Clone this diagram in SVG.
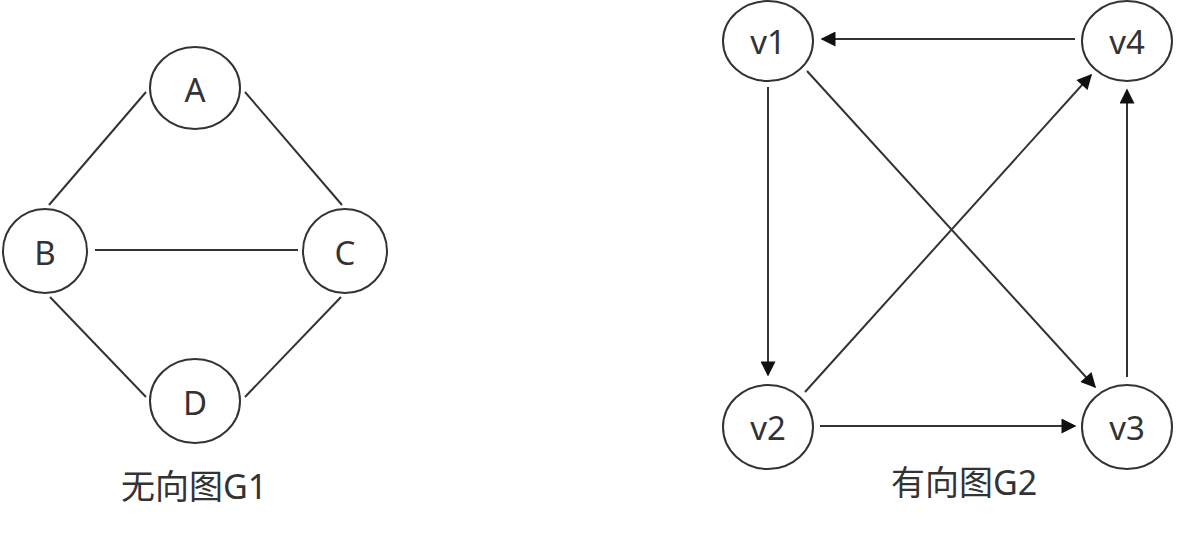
<svg xmlns="http://www.w3.org/2000/svg" width="1201" height="534" viewBox="0 0 1201 534">
<style>
.node ellipse{fill:#fff;stroke:#333;stroke-width:2}
.node text,.lbl{font-family:"Noto Sans","Noto Sans CJK SC",sans-serif;fill:#333;text-anchor:middle;dominant-baseline:central}
.node text{font-size:33px}
.lbl{font-size:34px}
.edges line{stroke:#333;stroke-width:2;fill:none}
.arr line{marker-end:url(#ah)}
</style>
<defs>
<marker id="ah" viewBox="0 0 10 10" refX="9" refY="5" markerWidth="8.5" markerHeight="7.5" markerUnits="strokeWidth" orient="auto">
<path d="M0,0 L10,5 L0,10 Z" fill="#111"/>
</marker>
</defs>
<rect width="1201" height="534" fill="#fff"/>
<g id="edges-g1" class="edges">
<line x1="146" y1="92" x2="49" y2="205"/>
<line x1="245" y1="92" x2="342" y2="205"/>
<line x1="95" y1="250" x2="298" y2="250"/>
<line x1="50" y1="297" x2="146" y2="397"/>
<line x1="341" y1="297" x2="245" y2="397"/>
</g>
<g id="edges-g2" class="edges arr">
<line x1="1075" y1="39" x2="822" y2="39"/>
<line x1="768" y1="87" x2="768" y2="375"/>
<line x1="807" y1="71" x2="1095" y2="387"/>
<line x1="805" y1="392" x2="1091" y2="75"/>
<line x1="820" y1="426" x2="1075" y2="426"/>
<line x1="1127" y1="377" x2="1127" y2="90"/>
</g>
<g id="A" class="node"><ellipse cx="195" cy="88" rx="45" ry="41"/><text x="195" y="89">A</text></g>
<g id="B" class="node"><ellipse cx="45" cy="251" rx="42" ry="42"/><text x="45" y="252">B</text></g>
<g id="C" class="node"><ellipse cx="345" cy="251" rx="42" ry="42"/><text x="345" y="252">C</text></g>
<g id="D" class="node"><ellipse cx="195" cy="401" rx="45" ry="42"/><text x="195" y="402">D</text></g>
<g id="v1" class="node"><ellipse cx="768" cy="41" rx="45" ry="40"/><text x="768" y="41">v1</text></g>
<g id="v4" class="node"><ellipse cx="1127" cy="41" rx="45" ry="40"/><text x="1127" y="41">v4</text></g>
<g id="v2" class="node"><ellipse cx="768" cy="427" rx="45" ry="42"/><text x="768" y="427">v2</text></g>
<g id="v3" class="node"><ellipse cx="1127" cy="427" rx="45" ry="42"/><text x="1127" y="427">v3</text></g>
<text class="lbl" x="194" y="486">无向图G1</text>
<text class="lbl" x="964" y="482">有向图G2</text>
</svg>
